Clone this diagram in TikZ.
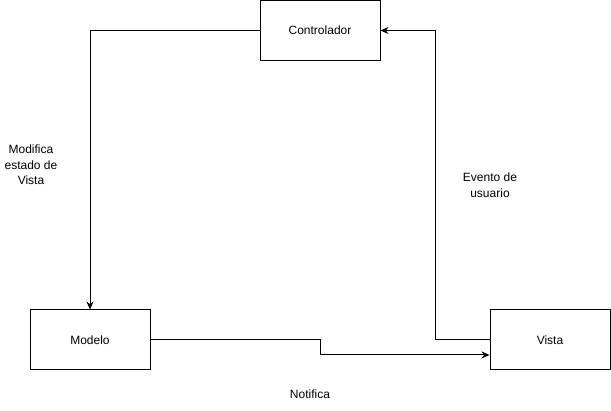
\documentclass[tikz,border=0pt]{standalone}
\usepackage{fontspec}
\setmainfont{Liberation Sans}
\usetikzlibrary{arrows.meta}
\begin{document}
\begin{tikzpicture}[x=1pt,y=-1pt,
  box/.style={draw=black, line width=1pt, minimum width=120pt, minimum height=60pt, inner sep=0pt, font=\fontsize{12}{14}\selectfont},
  conn/.style={draw=black, line width=1pt, -{Stealth[length=8pt,width=7pt]}},
  lbl/.style={align=center, font=\fontsize{12}{15.5}\selectfont, inner sep=0pt}]
\useasboundingbox (0,0) rectangle (611,411);
\node[box] (ctrl) at (320,30.5) {Controlador};
\node[box] (mod) at (90,340) {Modelo};
\node[box] (vis) at (550,340) {Vista};
\coordinate (m1) at (320,340);
\coordinate (m2) at (320,355);
\draw[conn] (ctrl.west) -| (mod.north);
\draw[conn] (vis.west) -- (435,340) |- (ctrl.east);
\draw[conn] (mod.east) -- (m1) -- (m2) -- (vis.west |- m2);
\node[lbl] (l1) at (31,165) {Modifica\\estado de\\Vista};
\node[lbl] (l2) at (490,185) {Evento de\\usuario};
\node[lbl] (l3) at (310,394) {Notifica};
\end{tikzpicture}
\end{document}
